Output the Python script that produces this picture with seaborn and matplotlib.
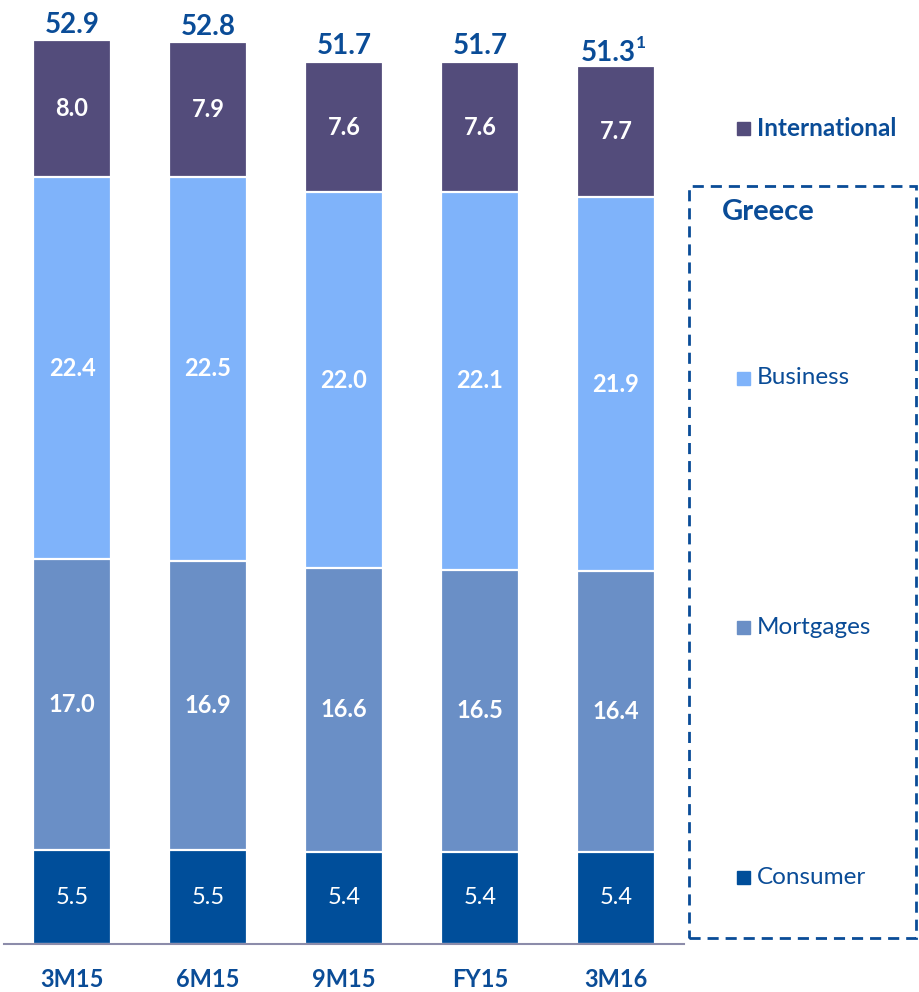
import numpy as np
import pandas as pd
import matplotlib
matplotlib.use("Agg")
import matplotlib.pyplot as plt
import seaborn as sns
from matplotlib.patches import Rectangle

periods = ["3M15", "6M15", "9M15", "FY15", "3M16"]
consumer = [5.5, 5.5, 5.4, 5.4, 5.4]
mortgages = [17.0, 16.9, 16.6, 16.5, 16.4]
business = [22.4, 22.5, 22.0, 22.1, 21.9]
international = [8.0, 7.9, 7.6, 7.6, 7.7]
totals = [52.9, 52.8, 51.7, 51.7, 51.3]
footnotes = ["", "", "", "", "1"]

segments = ["Consumer", "Mortgages", "Business", "International"]
colors = {"Consumer": "#004E9A", "Mortgages": "#6A8FC6",
          "Business": "#7FB3FA", "International": "#534C7B"}
text_blue = "#0A4C97"

sns.set_style("white")
plt.rcParams["font.family"] = ["Lato", "DejaVu Sans"]

df = pd.DataFrame({"period": periods, "Consumer": consumer, "Mortgages": mortgages,
                   "Business": business, "International": international})
cum = df[segments].cumsum(axis=1)

fig = plt.figure(figsize=(9.19, 9.92), dpi=100)
ax = fig.add_axes([4 / 919, 48 / 992, 680 / 919, 944 / 992])

# draw cumulative bars from the top layer down so segments stack
for seg in reversed(segments):
    sns.barplot(x=df["period"], y=cum[seg], order=periods, color=colors[seg],
                width=0.574, edgecolor="white", linewidth=1.6, saturation=1, ax=ax)

ax.set_xlim(-0.5, 4.5)
ax.set_ylim(0, 55.24)
ax.set_xlabel("")
ax.set_ylabel("")
ax.set_yticks([])
sns.despine(ax=ax, left=True)
ax.spines["bottom"].set_color("#8C8CAA")
ax.spines["bottom"].set_linewidth(1.5)
ax.tick_params(axis="x", length=0, pad=17)
for lbl in ax.get_xticklabels():
    lbl.set_fontweight("bold")
    lbl.set_fontsize(17)
    lbl.set_color(text_blue)

# segment labels
for i in range(len(periods)):
    base = 0
    for seg in segments:
        v = df[seg][i]
        ax.text(i, base + v / 2, f"{v:.1f}", ha="center", va="center", color="white",
                fontsize=17, fontweight="normal" if seg == "Consumer" else "bold")
        base += v
    shift = -0.06 if footnotes[i] else 0
    ax.text(i + shift, totals[i] + 0.1, f"{totals[i]:.1f}", ha="center", va="bottom",
            color=text_blue, fontsize=20, fontweight="bold")
    if footnotes[i]:
        ax.annotate(footnotes[i], (i, totals[i]), xytext=(14, 23), textcoords="offset points",
                    ha="left", va="top", color=text_blue, fontsize=12.5, fontweight="bold")

# legend
legend_y = {"International": 128, "Business": 378, "Mortgages": 627, "Consumer": 877}
for seg in segments:
    yf = 1 - legend_y[seg] / 992
    fig.patches.append(Rectangle((737 / 919, yf - 7 / 992), 13 / 919, 13 / 992,
                                 transform=fig.transFigure, color=colors[seg]))
    fig.text(757 / 919, yf, seg, ha="left", va="center", color=text_blue, fontsize=17.5,
             fontweight="bold" if seg == "International" else "normal")

fig.patches.append(Rectangle((689 / 919, 1 - 938 / 992), 227 / 919, 752 / 992,
                             transform=fig.transFigure, fill=False, edgecolor=text_blue,
                             linestyle=(0, (4, 2.5)), linewidth=2))
fig.text(722 / 919, 1 - 212 / 992, "Greece", ha="left", va="center", color=text_blue,
         fontsize=21, fontweight="bold")

fig.savefig("out.png", dpi=100)
